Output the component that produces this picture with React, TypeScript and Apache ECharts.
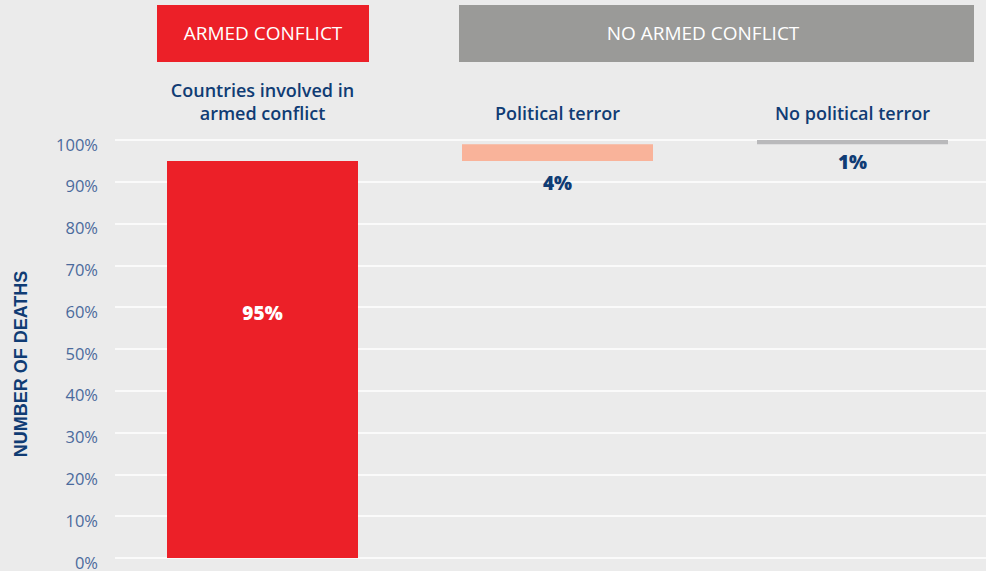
import React, { useEffect, useRef } from "react";
import * as echarts from "echarts";

const categories = ["Countries involved in\narmed conflict", "Political terror", "No political terror"];
const baseValues = [0, 95, 99];
const shareValues = [95, 4, 1];
const barColors = ["#ec2028", "#f9b39a", "#b9b9bb"];
const yTicks = [0, 10, 20, 30, 40, 50, 60, 70, 80, 90, 100];
const groupHeaders = ["ARMED CONFLICT", "NO ARMED CONFLICT"];

const NAVY = "#103c74";
const FONT = "'Open Sans', Roboto, sans-serif";

export default function App() {
  const ref = useRef<HTMLDivElement>(null);
  useEffect(() => {
    const chart = echarts.init(ref.current!, null, { renderer: "svg" });
    const labelCfg = [
      { position: "insideTop", distance: 143, color: "#ffffff" },
      { position: "bottom", distance: 13, color: NAVY },
      { position: "bottom", distance: 8, color: NAVY },
    ];
    chart.setOption({
      animation: false,
      backgroundColor: "#ebebeb",
      grid: { left: 115, top: 140, right: 0, height: 418 },
      xAxis: {
        type: "category",
        position: "top",
        data: categories,
        axisLine: { show: false },
        axisTick: { show: false },
        axisLabel: {
          interval: 0,
          margin: 16,
          verticalAlign: "bottom",
          color: NAVY,
          fontFamily: FONT,
          fontSize: 18,
          fontWeight: 600,
          lineHeight: 23,
        },
      },
      yAxis: {
        type: "value",
        min: yTicks[0],
        max: yTicks[yTicks.length - 1],
        interval: 10,
        name: "NUMBER OF DEATHS",
        nameLocation: "middle",
        nameGap: 85,
        nameTextStyle: {
          color: NAVY,
          fontFamily: "'Liberation Sans', Arial, sans-serif",
          fontSize: 18,
          fontWeight: "bold",
          padding: [0, 30, 0, 0],
        },
        axisLine: { show: false },
        axisTick: { show: false },
        splitLine: { lineStyle: { color: "#ffffff", width: 1.5 } },
        axisLabel: {
          margin: 17,
          color: "#4a6a9c",
          fontFamily: FONT,
          fontSize: 16.5,
          verticalAlign: "top",
          lineHeight: 8,
          formatter: (v: number) => v + "%",
        },
      },
      series: [
        {
          type: "bar",
          stack: "w",
          barWidth: 191,
          silent: true,
          itemStyle: { color: "transparent" },
          data: baseValues,
        },
        {
          type: "bar",
          stack: "w",
          barWidth: 191,
          data: shareValues.map((v, i) => ({
            value: v,
            itemStyle: { color: barColors[i] },
            label: {
              show: true,
              position: labelCfg[i].position,
              distance: labelCfg[i].distance,
              color: labelCfg[i].color,
              fontFamily: FONT,
              fontSize: 19,
              fontWeight: 800,
              formatter: v + "%",
            },
          })),
        },
      ],
      graphic: [
        {
          type: "rect",
          shape: { x: 157, y: 5, width: 212, height: 57 },
          style: { fill: "#ec2028" },
        },
        {
          type: "text",
          x: 263,
          y: 33,
          style: {
            text: groupHeaders[0],
            fill: "#ffffff",
            font: `500 19px ${FONT}`,
            align: "center",
            verticalAlign: "middle",
          },
        },
        {
          type: "rect",
          shape: { x: 459, y: 5, width: 515, height: 57 },
          style: { fill: "#9a9a98" },
        },
        {
          type: "text",
          x: 703,
          y: 33,
          style: {
            text: groupHeaders[1],
            fill: "#ffffff",
            font: `500 19px ${FONT}`,
            align: "center",
            verticalAlign: "middle",
          },
        },
      ],
    });
    return () => chart.dispose();
  }, []);
  return <div ref={ref} style={{ width: 1000, height: 571, position: "fixed", left: 0, top: 0 }} />;
}
